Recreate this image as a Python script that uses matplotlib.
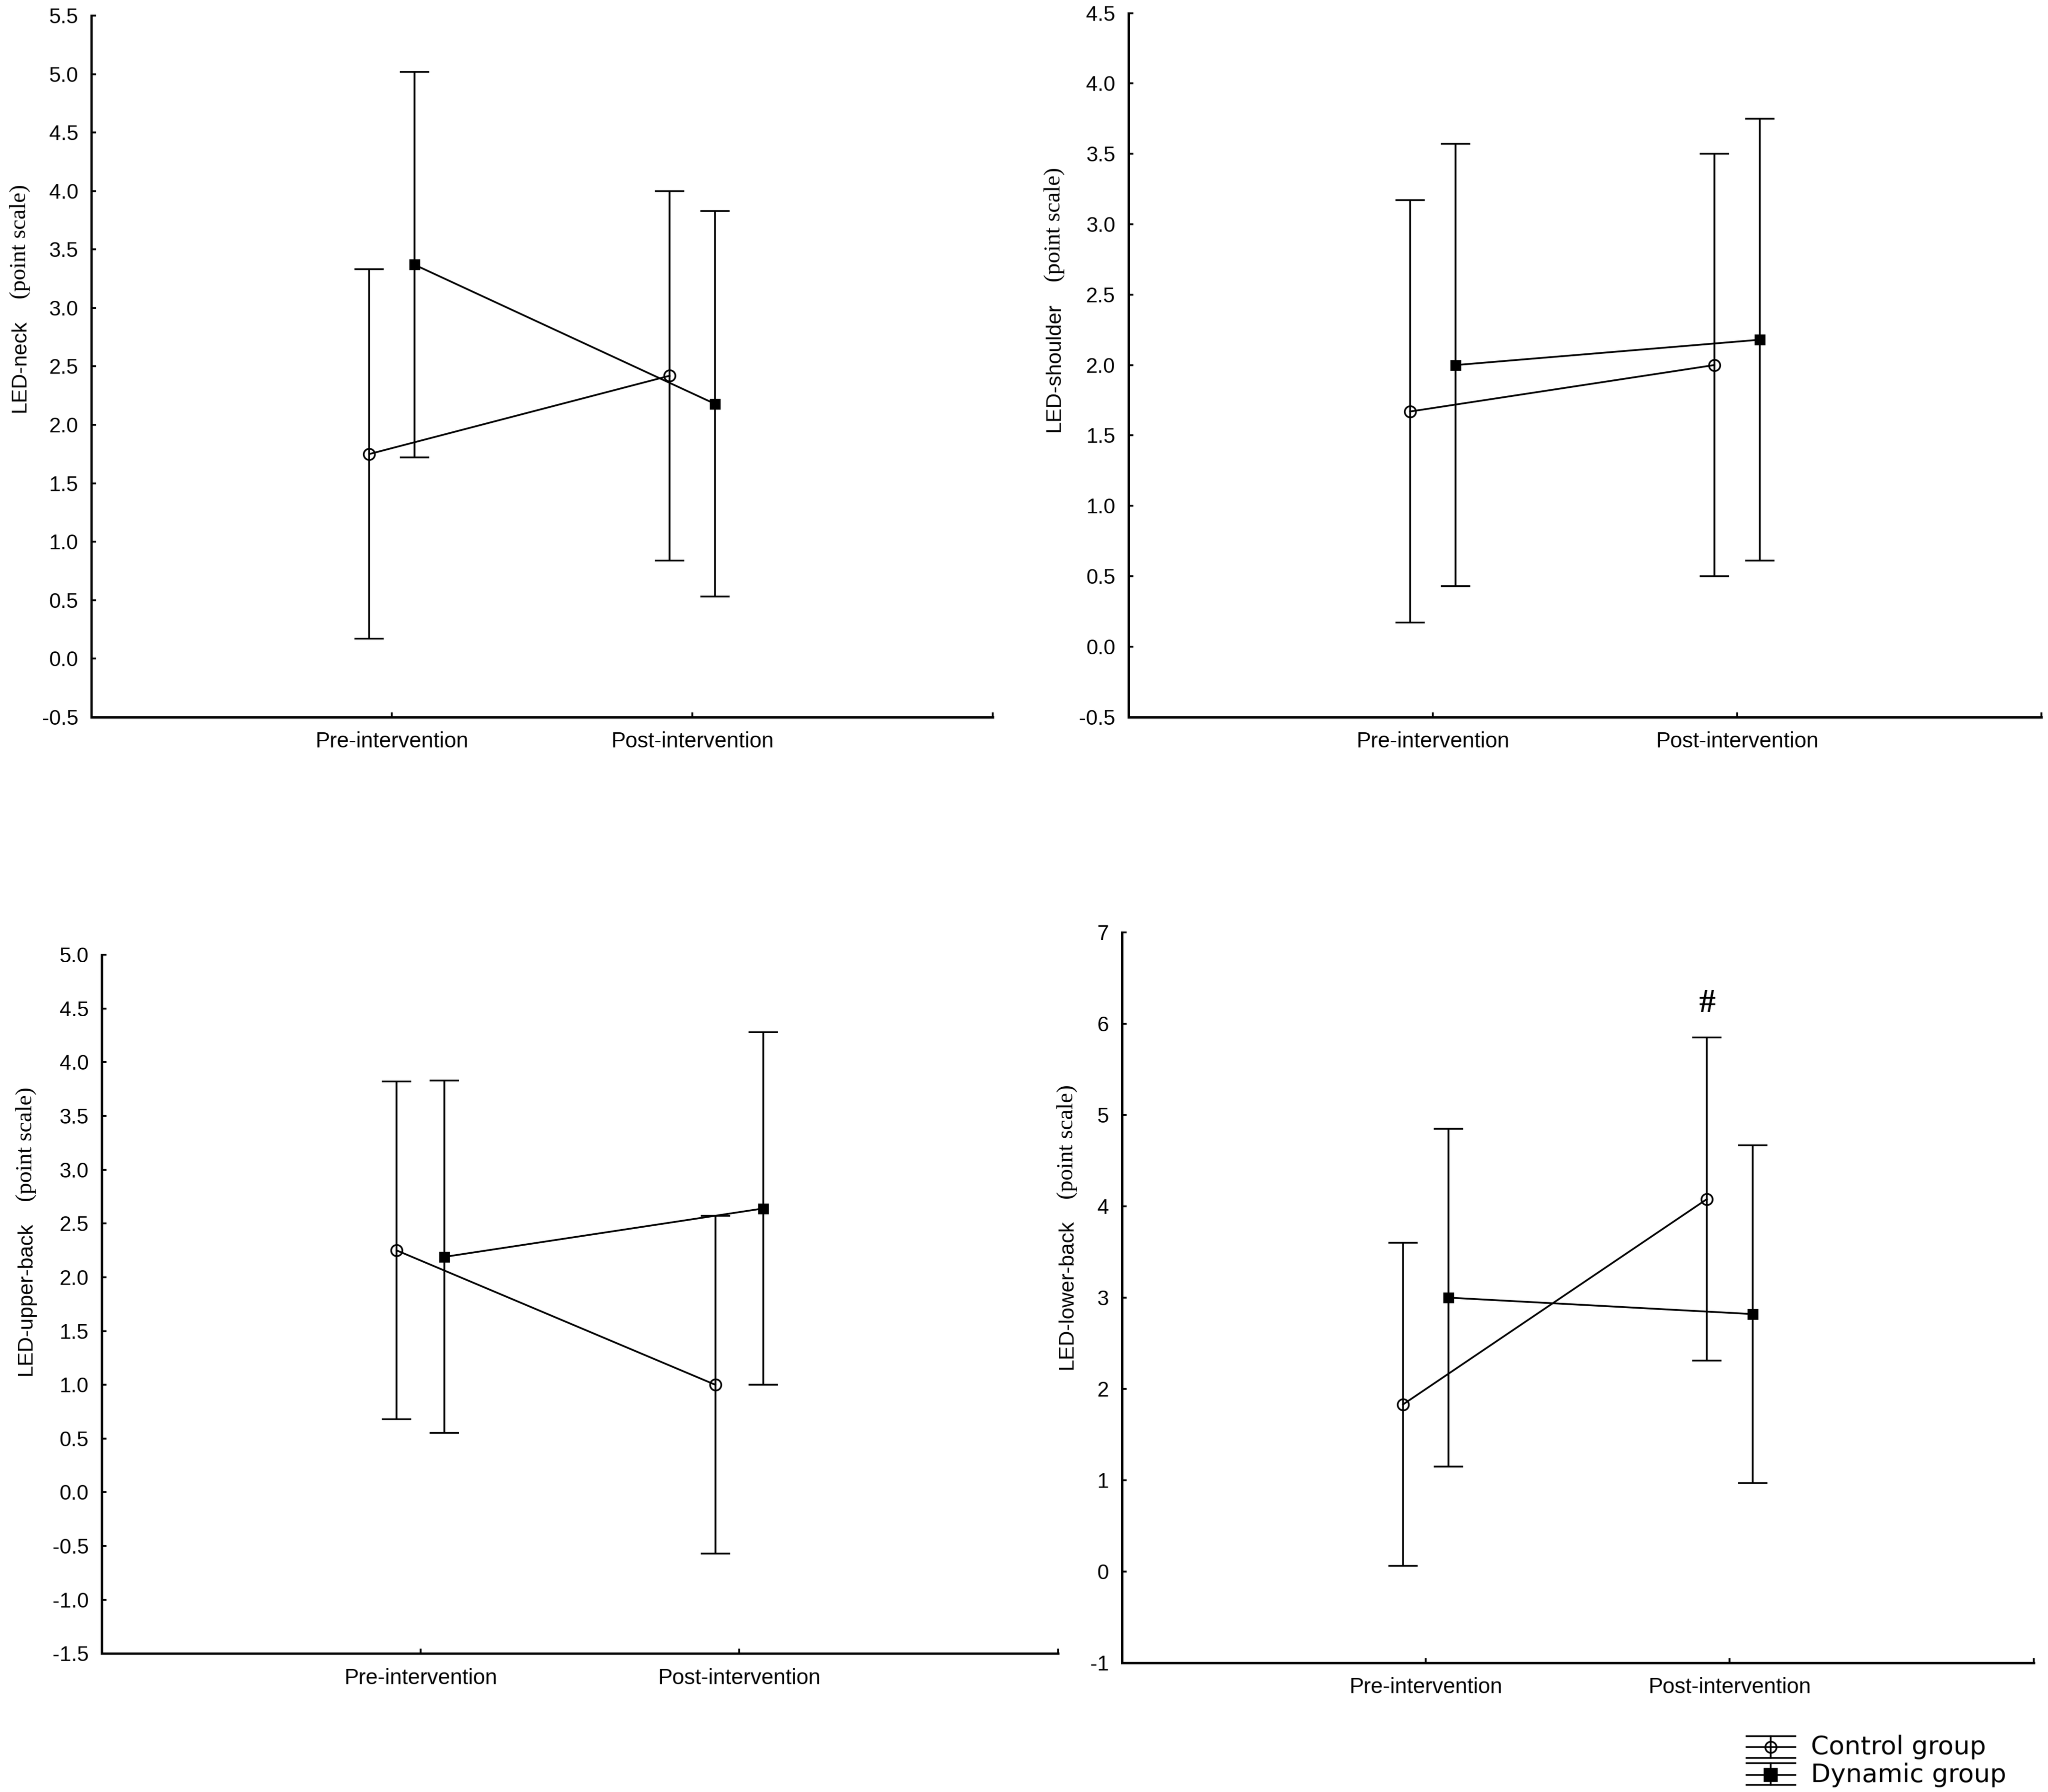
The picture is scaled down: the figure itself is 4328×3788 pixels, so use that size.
import matplotlib
matplotlib.use("Agg")
import matplotlib.pyplot as plt
from matplotlib.lines import Line2D
from matplotlib import font_manager

# ---------------- data ----------------
categories = ["Pre-intervention", "Post-intervention"]

neck_ctrl_mean = [1.75, 2.42]
neck_ctrl_err = [1.58, 1.58]
neck_dyn_mean = [3.37, 2.18]
neck_dyn_err = [1.65, 1.65]

shoulder_ctrl_mean = [1.67, 2.00]
shoulder_ctrl_err = [1.50, 1.50]
shoulder_dyn_mean = [2.00, 2.18]
shoulder_dyn_err = [1.57, 1.57]

upper_ctrl_mean = [2.25, 1.00]
upper_ctrl_err = [1.57, 1.57]
upper_dyn_mean = [2.19, 2.64]
upper_dyn_err = [1.64, 1.64]

lower_ctrl_mean = [1.83, 4.08]
lower_ctrl_err = [1.77, 1.77]
lower_dyn_mean = [3.00, 2.82]
lower_dyn_err = [1.85, 1.85]

neck_yticks = [-0.5, 0.0, 0.5, 1.0, 1.5, 2.0, 2.5, 3.0, 3.5, 4.0, 4.5, 5.0, 5.5]
shoulder_yticks = [-0.5, 0.0, 0.5, 1.0, 1.5, 2.0, 2.5, 3.0, 3.5, 4.0, 4.5]
upper_yticks = [-1.5, -1.0, -0.5, 0.0, 0.5, 1.0, 1.5, 2.0, 2.5, 3.0, 3.5, 4.0, 4.5, 5.0]
lower_yticks = [-1, 0, 1, 2, 3, 4, 5, 6, 7]

ylabel_sans = ["LED-neck", "LED-shoulder", "LED-upper-back", "LED-lower-back"]
ylabel_serif = "(point scale)"
legend_labels = ["Control group", "Dynamic group"]
sig_mark = "#"
sig_y = 6.22

# ---------------- fonts ----------------
def has_font(name):
    try:
        font_manager.findfont(font_manager.FontProperties(family=name), fallback_to_default=False)
        return True
    except Exception:
        return False

SANS = "Liberation Sans"
NARROW = "Liberation Sans Narrow" if has_font("Liberation Sans Narrow") else SANS
SERIF = "Liberation Serif"
plt.rcParams["font.family"] = [SANS, "DejaVu Sans"]

W, H = 4328, 3788
DPI = 200
fig = plt.figure(figsize=(W / DPI, H / DPI), dpi=DPI)

D_W, D_H = 1568.0, 1372.0  # reference display coordinates used for layout


def rect(l, r, t, b):
    return [l / D_W, 1 - b / D_H, (r - l) / D_W, (b - t) / D_H]


panels = [
    dict(rect=rect(70, 760, 12, 549), ctrl=(neck_ctrl_mean, neck_ctrl_err),
         dyn=(neck_dyn_mean, neck_dyn_err), yticks=neck_yticks, fmt="{:.1f}",
         lab_x=15, lab_split=237),
    dict(rect=rect(864, 1563, 10, 549), ctrl=(shoulder_ctrl_mean, shoulder_ctrl_err),
         dyn=(shoulder_dyn_mean, shoulder_dyn_err), yticks=shoulder_yticks, fmt="{:.1f}",
         lab_x=807, lab_split=224),
    dict(rect=rect(78, 810, 731, 1266), ctrl=(upper_ctrl_mean, upper_ctrl_err),
         dyn=(upper_dyn_mean, upper_dyn_err), yticks=upper_yticks, fmt="{:.1f}",
         lab_x=20, lab_split=928),
    dict(rect=rect(859, 1557, 714, 1273), ctrl=(lower_ctrl_mean, lower_ctrl_err),
         dyn=(lower_dyn_mean, lower_dyn_err), yticks=lower_yticks, fmt="{:d}",
         lab_x=817, lab_split=926),
]

off = 0.075
LW = 1.35
axes = []
for i, p in enumerate(panels):
    ax = fig.add_axes(p["rect"])
    axes.append(ax)
    x = list(range(len(categories)))
    xc = [v - off for v in x]
    xd = [v + off for v in x]
    cm, ce = p["ctrl"]
    dm, de = p["dyn"]
    ax.errorbar(xc, cm, yerr=ce, fmt="-o", color="k", mfc="none", mec="k", ms=8.5,
                mew=1.3, lw=LW, elinewidth=LW, capsize=11.3, capthick=LW, zorder=3)
    ax.errorbar(xd, dm, yerr=de, fmt="-s", color="k", mfc="k", mec="k", ms=7.5,
                lw=LW, elinewidth=LW, capsize=11.3, capthick=LW, zorder=3)
    ax.set_xlim(-1, 2)
    yt = p["yticks"]
    ax.set_ylim(yt[0], yt[-1])
    ax.set_yticks(yt)
    ax.set_yticklabels([p["fmt"].format(v) for v in yt], fontsize=16, family=SANS)
    ax.set_xticks([0, 1, 2])
    ax.set_xticklabels(categories + [""], fontsize=19 if NARROW != SANS else 16.5,
                       family=NARROW)
    for s in ["top", "right"]:
        ax.spines[s].set_visible(False)
    for s in ["left", "bottom"]:
        ax.spines[s].set_linewidth(1.8)
    ax.tick_params(axis="y", direction="in", length=3.5, width=1.4, pad=10)
    ax.tick_params(axis="x", direction="in", length=3.5, width=1.4, pad=11)

    # two-font y label
    lx = p["lab_x"] / D_W
    split = 1 - p["lab_split"] / D_H
    gap = 8.0 / D_H
    fig.text(lx, split - gap, ylabel_sans[i], rotation=90, ha="center", va="top",
             fontsize=16, family=SANS)
    fig.text(lx, split + gap, ylabel_serif, rotation=90, ha="center", va="bottom",
             fontsize=17.5, family=SERIF)

# significance mark on lower-back panel (control group, post)
axes[3].text(1 - off, sig_y, sig_mark, ha="center", va="center", fontsize=25,
             family=SERIF, fontweight="bold")

# ---------------- legend (drawn in figure coordinates) ----------------
def fx(px):
    return px / W


def fy(py):
    return 1 - py / H


entries = [
    dict(top=3670, mid=3693, bot=3716, marker="o", mfc="none", ms=8.5),
    dict(top=3727, mid=3752, bot=3773, marker="s", mfc="k", ms=9.5),
]
x0, x1, xm = 3691, 3794, 3742
for e, lab in zip(entries, legend_labels):
    for yy in (e["top"], e["mid"], e["bot"]):
        fig.add_artist(Line2D([fx(x0), fx(x1)], [fy(yy), fy(yy)], color="k", lw=1.3,
                              transform=fig.transFigure))
    fig.add_artist(Line2D([fx(xm), fx(xm)], [fy(e["top"]), fy(e["bot"])], color="k",
                          lw=1.3, transform=fig.transFigure))
    fig.add_artist(Line2D([fx(xm)], [fy(e["mid"])], marker=e["marker"], mfc=e["mfc"],
                          mec="k", ms=e["ms"], mew=1.3, color="k",
                          transform=fig.transFigure))
    fig.text(fx(3827), fy(e["mid"]), lab, ha="left", va="center", fontsize=19.5,
             family="DejaVu Sans")

fig.savefig("out.png", dpi=DPI, facecolor="white")
